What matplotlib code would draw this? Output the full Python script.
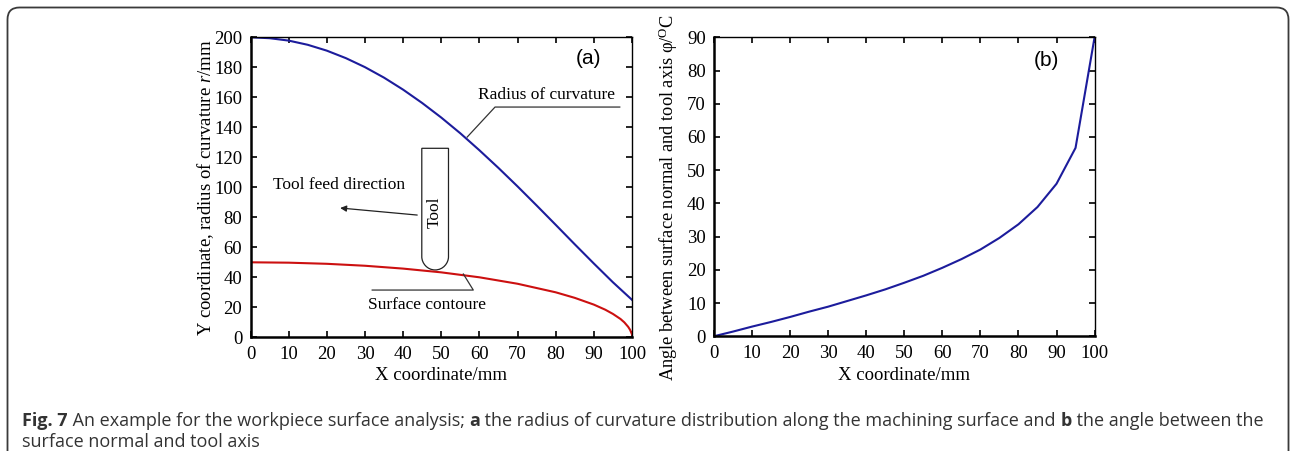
import matplotlib
matplotlib.use("Agg")
import matplotlib.pyplot as plt
from matplotlib.path import Path
from matplotlib.patches import PathPatch, FancyBboxPatch
from matplotlib.text import Annotation
from matplotlib.transforms import IdentityTransform

plt.rcParams['font.family'] = ['Liberation Serif', 'DejaVu Serif']
plt.rcParams['mathtext.fontset'] = 'custom'
plt.rcParams['mathtext.rm'] = 'Liberation Serif'
plt.rcParams['mathtext.it'] = 'Liberation Serif:italic'

# (a) radius of curvature and surface contour
x_a = [0, 5, 10, 15, 20, 25, 30, 35, 40, 45, 50, 55, 60, 65, 70, 75, 80, 85, 90, 95, 100]
radius = [200, 199.4, 197.8, 195.0, 191.1, 186.1, 180.1, 173.1, 165.1, 156.2, 146.5,
          136.0, 124.7, 112.9, 100.6, 87.9, 75.0, 62.0, 49.2, 36.7, 25.0]
x_s = [0, 10, 20, 30, 40, 50, 60, 70, 80, 85, 90, 93, 95, 97, 98, 99, 99.5, 100]
surface = [50, 49.75, 49.0, 47.7, 45.8, 43.3, 40.0, 35.7, 30.0, 26.3, 21.8, 18.4,
           15.6, 12.2, 9.95, 7.0, 5.0, 2.0]

# (b) angle between surface normal and tool axis
x_b = [0, 5, 10, 15, 20, 25, 30, 35, 40, 45, 50, 55, 60, 65, 70, 75, 80, 85, 90, 95, 100]
angle = [0, 1.4, 2.9, 4.3, 5.8, 7.4, 8.9, 10.6, 12.3, 14.1, 16.1, 18.2, 20.6, 23.2,
         26.1, 29.6, 33.7, 38.9, 45.9, 56.7, 90]

blue = '#1c1c9c'
red = '#cc1010'
tick_fs = 13.5

fig = plt.figure(figsize=(12.9, 4.51), dpi=100)

# outer frame of the figure box
fig.patches.append(FancyBboxPatch((7.5, -30), 1281, 443.5 + 30, boxstyle='round,pad=0,rounding_size=12',
                                  transform=IdentityTransform(), fill=False, ec='#3a3a3a', lw=1.3))


def style_axes(ax, ymax, ystep):
    ax.set_xlim(0, 100)
    ax.set_ylim(0, ymax)
    ax.set_xticks(range(0, 101, 10))
    ax.set_yticks(range(0, ymax + 1, ystep))
    ax.tick_params(direction='in', top=True, right=True, length=4, width=1.2,
                   labelsize=tick_fs, pad=6)
    for s in ['left', 'bottom']:
        ax.spines[s].set_linewidth(1.8)
    for s in ['top', 'right']:
        ax.spines[s].set_linewidth(1.0)


# ---- panel (a)
ax1 = fig.add_axes([0.1942, 0.2521, 0.2957, 0.6652])
ax1.plot(x_a, radius, color=blue, lw=1.5)
ax1.plot(x_s, surface, color=red, lw=1.5)
style_axes(ax1, 200, 20)
ax1.set_xlabel('X coordinate/mm', fontsize=tick_fs, va='center')
ax1.xaxis.set_label_coords(0.5, -0.126)
ax1.set_ylabel('Y coordinate, radius of curvature $r$/mm', fontsize=tick_fs, va='center')
ax1.yaxis.set_label_coords(-0.117, 0.5)
ax1.text(0.885, 0.93, '(a)', transform=ax1.transAxes, ha='center', va='center',
         fontsize=15, family='Liberation Sans')

# annotations
ax1.text(59.7, 161.5, 'Radius of curvature', fontsize=12.5, va='center')
ax1.plot([96.8, 64.1, 56.8], [153.5, 153.5, 133.5], color='#333333', lw=0.9)
ax1.text(30.8, 21.5, 'Surface contoure', fontsize=12.5, va='center')
ax1.plot([31.9, 58.4, 55.8], [31.5, 31.5, 42.2], color='#333333', lw=0.9)
ax1.text(5.8, 101.5, 'Tool feed direction', fontsize=12.5, va='center')
ax1.annotate('', xy=(23.5, 86.2), xytext=(43.7, 81.5),
             arrowprops=dict(arrowstyle='-|>', color='#222222', lw=0.9,
                             mutation_scale=9, shrinkA=0, shrinkB=0))

tool_verts = [(44.9, 126), (44.9, 53.7), (44.9, 49.5), (46.3, 44.9), (48.4, 44.9),
              (50.5, 44.9), (51.9, 49.5), (51.9, 53.7), (51.9, 126), (44.9, 126)]
tool_codes = [Path.MOVETO, Path.LINETO, Path.CURVE4, Path.CURVE4, Path.CURVE4,
              Path.CURVE4, Path.CURVE4, Path.CURVE4, Path.LINETO, Path.CLOSEPOLY]
ax1.add_patch(PathPatch(Path(tool_verts, tool_codes), fill=False, ec='#222222', lw=0.9))
ax1.text(48.4, 83.5, 'Tool', rotation=90, fontsize=12.5, ha='center', va='center')

# ---- panel (b)
ax2 = fig.add_axes([0.5535, 0.2545, 0.2950, 0.6628])
ax2.plot(x_b, angle, color=blue, lw=1.5)
style_axes(ax2, 90, 10)
ax2.set_xlabel('X coordinate/mm', fontsize=tick_fs, va='center')
ax2.xaxis.set_label_coords(0.5, -0.13)
ax2.set_ylabel('Angle between surface normal and tool axis φ/$^{\\mathrm{O}}$C',
               fontsize=13.2, va='center')
ax2.yaxis.set_label_coords(-0.121, 0.465)
ax2.text(0.874, 0.924, '(b)', transform=ax2.transAxes, ha='center', va='center',
         fontsize=15, family='Liberation Sans')

# ---- caption
cap_fs = 13.0
cap_col = '#333333'


def caption_line(parts, y):
    prev = fig.text(22 / 1290, y, parts[0][0], fontsize=cap_fs, color=cap_col,
                    family='Open Sans', fontweight=parts[0][1], va='bottom')
    for txt, w in parts[1:]:
        a = Annotation(txt, xy=(1, 0), xycoords=prev, va='bottom', ha='left',
                       fontsize=cap_fs, color=cap_col, family='Open Sans', fontweight=w)
        fig.add_artist(a)
        prev = a


caption_line([('Fig. 7', 'bold'), (' An example for the workpiece surface analysis; ', 'normal'),
              ('a', 'bold'), (' the radius of curvature distribution along the machining surface and ', 'normal'),
              ('b', 'bold'), (' the angle between the', 'normal')], 21 / 451)
caption_line([('surface normal and tool axis', 'normal')], 0 / 451)

fig.savefig('out.png', dpi=100)
